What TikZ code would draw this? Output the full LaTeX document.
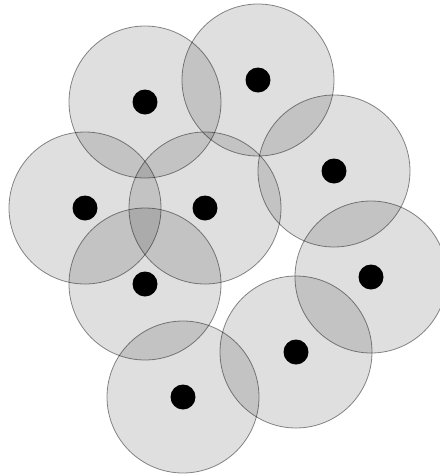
\documentclass[tikz,border=0pt]{standalone}
\begin{document}
\begin{tikzpicture}[x=1pt,y=-1pt,
  disk/.style={circle,minimum size=152pt,inner sep=0pt,fill=black,fill opacity=0.125,draw=black,draw opacity=0.45,line width=0.8pt},
  dot/.style={circle,minimum size=25pt,inner sep=0pt,fill=black}]
\useasboundingbox (0,0) rectangle (440,475);
\foreach \n/\x/\y in {1/145/102,2/258/80,3/334/171,4/85/208,5/205/208,6/145/284,7/371/277,8/296/352,9/183/397}{
  \node[disk] (c\n) at (\x,\y) {};
}
\foreach \n/\x/\y in {1/145/102,2/258/80,3/334/171,4/85/208,5/205/208,6/145/284,7/371/277,8/296/352,9/183/397}{
  \node[dot] (d\n) at (\x,\y) {};
}
\end{tikzpicture}
\end{document}
